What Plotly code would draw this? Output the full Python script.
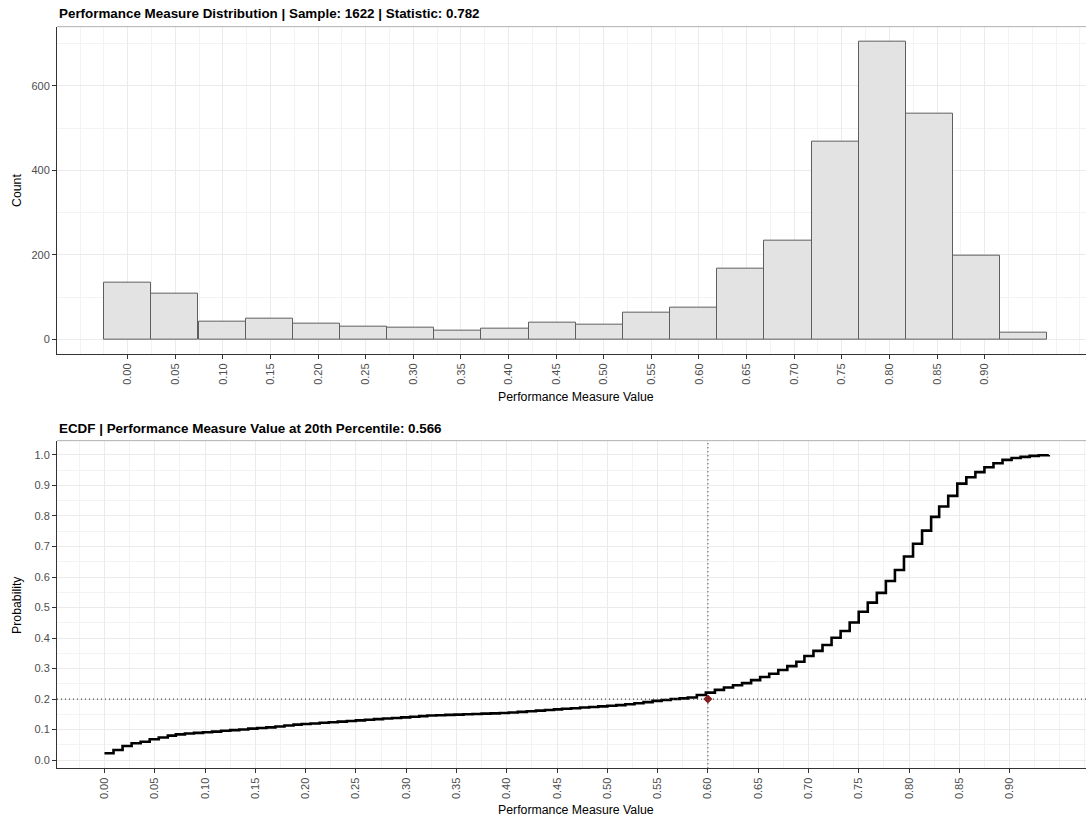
import plotly.graph_objects as go

# Histogram of performance measure values: 20 bins of width (max - min) / 19,
# centred on the bin midpoints listed here
bin_centers = [0.0000, 0.0495, 0.0991, 0.1486, 0.1981, 0.2477, 0.2972, 0.3467, 0.3963, 0.4458,
               0.4953, 0.5449, 0.5944, 0.6439, 0.6935, 0.7430, 0.7925, 0.8421, 0.8916, 0.9411]
bin_counts = [134, 107, 43, 49, 37, 31, 28, 21, 25, 39,
              35, 62, 76, 167, 233, 469, 705, 535, 198, 15]
bin_width = 0.04953

x_tick_vals = [0.00, 0.05, 0.10, 0.15, 0.20, 0.25, 0.30, 0.35, 0.40, 0.45,
               0.50, 0.55, 0.60, 0.65, 0.70, 0.75, 0.80, 0.85, 0.90]
x_tick_text = ["0.00", "0.05", "0.10", "0.15", "0.20", "0.25", "0.30", "0.35", "0.40", "0.45",
               "0.50", "0.55", "0.60", "0.65", "0.70", "0.75", "0.80", "0.85", "0.90"]
count_ticks = [0, 200, 400, 600]
prob_ticks = [0.0, 0.1, 0.2, 0.3, 0.4, 0.5, 0.6, 0.7, 0.8, 0.9, 1.0]
prob_tick_text = ["0.0", "0.1", "0.2", "0.3", "0.4", "0.5", "0.6", "0.7", "0.8", "0.9", "1.0"]

# Empirical CDF (step positions and cumulative probability)
ecdf_x = [0.000, 0.009, 0.018, 0.027, 0.036, 0.045, 0.054, 0.063, 0.071, 0.080,
          0.089, 0.098, 0.107, 0.116, 0.125, 0.134, 0.143, 0.152, 0.161, 0.170,
          0.179, 0.188, 0.196, 0.205, 0.214, 0.223, 0.232, 0.241, 0.250, 0.259,
          0.268, 0.277, 0.286, 0.295, 0.304, 0.313, 0.321, 0.330, 0.339, 0.348,
          0.357, 0.366, 0.375, 0.384, 0.393, 0.402, 0.411, 0.420, 0.429, 0.438,
          0.447, 0.455, 0.464, 0.473, 0.482, 0.491, 0.500, 0.509, 0.518, 0.527,
          0.536, 0.545, 0.554, 0.563, 0.572, 0.580, 0.589, 0.598, 0.607, 0.616,
          0.625, 0.634, 0.643, 0.652, 0.661, 0.670, 0.679, 0.688, 0.696, 0.705,
          0.714, 0.723, 0.732, 0.741, 0.750, 0.759, 0.768, 0.777, 0.786, 0.795,
          0.804, 0.813, 0.822, 0.830, 0.839, 0.848, 0.857, 0.866, 0.875, 0.884,
          0.893, 0.902, 0.911, 0.920, 0.929, 0.939]
ecdf_y = [0.022, 0.033, 0.046, 0.055, 0.060, 0.068, 0.074, 0.080, 0.084, 0.087,
          0.089, 0.091, 0.093, 0.096, 0.098, 0.100, 0.103, 0.105, 0.107, 0.110,
          0.113, 0.116, 0.118, 0.120, 0.122, 0.124, 0.126, 0.128, 0.130, 0.132,
          0.134, 0.136, 0.138, 0.140, 0.142, 0.144, 0.146, 0.147, 0.148, 0.149,
          0.150, 0.151, 0.152, 0.153, 0.154, 0.156, 0.158, 0.160, 0.162, 0.164,
          0.166, 0.168, 0.170, 0.172, 0.174, 0.176, 0.178, 0.180, 0.183, 0.186,
          0.190, 0.194, 0.197, 0.200, 0.202, 0.205, 0.213, 0.221, 0.230, 0.238,
          0.245, 0.252, 0.262, 0.272, 0.283, 0.295, 0.308, 0.322, 0.341, 0.358,
          0.377, 0.401, 0.423, 0.451, 0.486, 0.516, 0.548, 0.587, 0.623, 0.667,
          0.709, 0.752, 0.797, 0.831, 0.866, 0.906, 0.927, 0.944, 0.960, 0.973,
          0.984, 0.990, 0.994, 0.997, 0.999, 1.000]

# Reference point: 20th percentile marker
pct_level = 0.2
pct_marker_x = 0.60

sample_size = 1622
statistic = 0.782
pct_value = 0.566

FONT = "Liberation Sans, Arial, sans-serif"
TICK_COLOR = "#4d4d4d"
AXIS_COLOR = "#333333"
GRID_MAJOR = "#ebebeb"
GRID_MINOR = "#f3f3f3"

fig = go.Figure()

fig.add_trace(go.Bar(
    x=bin_centers, y=bin_counts, width=bin_width,
    marker=dict(color="#e3e3e3", line=dict(color="#5e5e5e", width=1)),
    xaxis="x", yaxis="y", showlegend=False, hoverinfo="x+y",
))

fig.add_trace(go.Scatter(
    x=ecdf_x, y=ecdf_y, mode="lines",
    line=dict(shape="hv", color="black", width=2.6),
    xaxis="x2", yaxis="y2", showlegend=False,
))

fig.add_trace(go.Scatter(
    x=[pct_marker_x], y=[pct_level], mode="markers",
    marker=dict(symbol="diamond", size=7, color="#8b1a1a"),
    xaxis="x2", yaxis="y2", showlegend=False,
))


def x_axis(rng, anchor):
    minor_vals = [round(-0.1 + 0.025 * i, 3) for i in range(50)]
    return dict(
        domain=[0, 1], anchor=anchor, range=rng,
        tickmode="array", tickvals=x_tick_vals, ticktext=x_tick_text,
        tickangle=-90, ticks="outside", ticklen=4, tickwidth=1, tickcolor=AXIS_COLOR,
        tickfont=dict(family=FONT, size=11, color=TICK_COLOR),
        showline=True, linecolor=AXIS_COLOR, linewidth=1,
        showgrid=True, gridcolor=GRID_MAJOR, gridwidth=1, zeroline=False,
        minor=dict(tickmode="array", tickvals=minor_vals, showgrid=True,
                   gridcolor=GRID_MINOR, gridwidth=1, ticks=""),
    )


def y_axis(domain, rng, anchor, vals, text, minor_vals):
    return dict(
        domain=domain, anchor=anchor, range=rng,
        tickmode="array", tickvals=vals, ticktext=text,
        ticks="outside", ticklen=4, tickwidth=1, tickcolor=AXIS_COLOR,
        tickfont=dict(family=FONT, size=11, color=TICK_COLOR),
        showline=True, linecolor=AXIS_COLOR, linewidth=1,
        showgrid=True, gridcolor=GRID_MAJOR, gridwidth=1, zeroline=False,
        minor=dict(tickmode="array", tickvals=minor_vals, showgrid=True,
                   gridcolor=GRID_MINOR, gridwidth=1, ticks=""),
    )


fig.update_layout(
    width=1086, height=818,
    margin=dict(l=57, r=0, t=0, b=0),
    paper_bgcolor="white", plot_bgcolor="white",
    bargap=0,
    font=dict(family=FONT, color="black"),
    xaxis=x_axis([-0.0743, 1.0065], "y"),
    yaxis=y_axis([0.5672, 0.9674], [-34.8, 740.5], "x", count_ticks,
                 [str(v) for v in count_ticks], [100, 300, 500, 700]),
    xaxis2=x_axis([-0.0472, 0.976], "y2"),
    yaxis2=y_axis([0.0608, 0.4613], [-0.027, 1.047], "x2", prob_ticks,
                  prob_tick_text, [0.05 + 0.1 * i for i in range(10)]),
)

# Top border lines of both panels
for xr, yr in (("x domain", "y domain"), ("x2 domain", "y2 domain")):
    fig.add_shape(type="line", xref=xr, yref=yr, x0=0, x1=1, y0=1, y1=1,
                  line=dict(color="#b0b0b0", width=1))

# Dotted guide lines through the percentile marker
fig.add_shape(type="line", xref="x2 domain", yref="y2", x0=0, x1=1,
              y0=pct_level, y1=pct_level, line=dict(color="#444444", width=1.2, dash="1px,3px"))
fig.add_shape(type="line", xref="x2", yref="y2 domain", x0=pct_marker_x, x1=pct_marker_x,
              y0=0, y1=1, line=dict(color="#444444", width=1.2, dash="1px,3px"))

annotations = [
    dict(text=f"<b>Performance Measure Distribution | Sample: {sample_size} | Statistic: {statistic}</b>",
         x=0, y=0.9829, xanchor="left", yanchor="middle", font=dict(size=13.4)),
    dict(text=f"<b>ECDF | Performance Measure Value at 20th Percentile: {pct_value}</b>",
         x=0, y=0.4756, xanchor="left", yanchor="middle", font=dict(size=13.4)),
    dict(text="Performance Measure Value", x=0.5044, y=0.5147, xanchor="center",
         yanchor="middle", font=dict(size=12.3)),
    dict(text="Performance Measure Value", x=0.5044, y=0.0098, xanchor="center",
         yanchor="middle", font=dict(size=12.3)),
    dict(text="Count", x=-0.0389, y=0.7677, xanchor="center", yanchor="middle",
         textangle=-90, font=dict(size=12.3)),
    dict(text="Probability", x=-0.0389, y=0.2604, xanchor="center", yanchor="middle",
         textangle=-90, font=dict(size=12.3)),
]
for a in annotations:
    a.update(xref="paper", yref="paper", showarrow=False)
    a["font"].update(family=FONT, color="black")
fig.update_layout(annotations=annotations)

fig.write_html("out.html")
